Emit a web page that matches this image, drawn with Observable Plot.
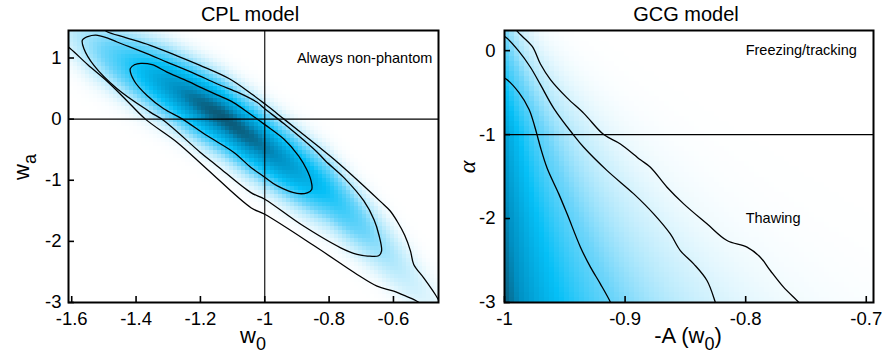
<!DOCTYPE html>
<html>
<head>
<meta charset="utf-8">
<script src="https://cdn.jsdelivr.net/npm/d3@7"></script>
<script src="https://cdn.jsdelivr.net/npm/@observablehq/plot@0.6"></script>
<style>
  body { margin: 0; background: #fff; }
  #wrap { position: relative; width: 883px; height: 356px; overflow: hidden;
          font-family: "Liberation Sans", Arial, Helvetica, sans-serif; color: #000; }
  .panel { position: absolute; top: 0; }
  .title { position: absolute; top: 4px; width: 300px; text-align: center; font-size: 20px; line-height: 20px; }
  .xlab { position: absolute; top: 325px; width: 200px; text-align: center; font-size: 22px; line-height: 22px; }
  .ylab { position: absolute; font-size: 22px; line-height: 22px; white-space: nowrap;
          transform: translate(-50%, -50%) rotate(-90deg); }
  .sub { font-size: 18px; position: relative; top: 7px; }
</style>
</head>
<body>
<div id="wrap">
  <div id="left" class="panel" style="left:0"></div>
  <div id="right" class="panel" style="left:440px"></div>
  <div class="title" style="left:100px">CPL model</div>
  <div class="title" style="left:536px">GCG model</div>
  <div class="xlab" style="left:153px">w<span class="sub">0</span></div>
  <div class="xlab" style="left:588px">-A (w<span class="sub">0</span>)</div>
  <div class="ylab" style="left:22px; top:167px">w<span class="sub">a</span></div>
  <div class="ylab" style="left:467px; top:167px; font-family:'Liberation Serif','DejaVu Serif',serif; font-style:italic; font-size:24px">α</div>
</div>
<script>
// ---------- axes ----------
const cplXDomain = [-1.61, -0.46];
const cplYDomain = [-3, 1.45];
const cplXTicks = [-1.6, -1.4, -1.2, -1, -0.8, -0.6];
const cplXTickLabels = ["-1.6", "-1.4", "-1.2", "-1", "-0.8", "-0.6"];
const cplYTicks = [1, 0, -1, -2, -3];
const cplYTickLabels = ["1", "0", "-1", "-2", "-3"];

const gcgXDomain = [-1, -0.694];
const gcgYDomain = [-3, 0.24];
const gcgXTicks = [-1, -0.9, -0.8, -0.7];
const gcgXTickLabels = ["-1", "-0.9", "-0.8", "-0.7"];
const gcgYTicks = [0, -1, -2, -3];
const gcgYTickLabels = ["0", "-1", "-2", "-3"];

// reference lines
const cplRefX = [-1];
const cplRefY = [0];
const gcgRefY = [-1];

// ---------- CPL contours [w0, wa] ----------
const cplContour1 = [[-1.418,0.825],[-1.405,0.89],[-1.385,0.912],[-1.35,0.89],[-1.304,0.77],[-1.25,0.645],[-1.201,0.525],[-1.15,0.40],[-1.097,0.27],[-1.05,0.10],[-1.0,-0.09],[-0.94,-0.33],[-0.895,-0.6],[-0.87,-0.82],[-0.856,-1.01],[-0.854,-1.15],[-0.868,-1.205],[-0.90,-1.215],[-0.961,-1.093],[-1.0,-0.95],[-1.043,-0.79],[-1.097,-0.541],[-1.18,-0.269],[-1.257,0.005],[-1.314,0.169],[-1.366,0.387],[-1.405,0.62]];
const cplContour2 = [[-1.567,1.29],[-1.55,1.35],[-1.525,1.375],[-1.49,1.33],[-1.459,1.262],[-1.38,1.10],[-1.304,0.934],[-1.22,0.75],[-1.149,0.579],[-1.08,0.43],[-1.025,0.279],[-1.0,0.17],[-0.94,-0.077],[-0.837,-0.541],[-0.811,-0.684],[-0.754,-0.957],[-0.692,-1.339],[-0.66,-1.65],[-0.645,-1.90],[-0.637,-2.159],[-0.646,-2.235],[-0.68,-2.24],[-0.713,-2.213],[-0.764,-2.105],[-0.888,-1.721],[-1.0,-1.311],[-1.043,-1.203],[-1.149,-0.761],[-1.201,-0.541],[-1.314,-0.023],[-1.356,0.115],[-1.459,0.497],[-1.531,0.879],[-1.562,1.152]];
const cplContour3Upper = [[-1.50,1.47],[-1.49,1.43],[-1.43,1.33],[-1.356,1.207],[-1.28,1.05],[-1.201,0.879],[-1.11,0.66],[-1.043,0.42],[-1.0,0.25],[-0.94,0.0],[-0.837,-0.433],[-0.775,-0.70],[-0.692,-1.093],[-0.64,-1.35],[-0.61,-1.503],[-0.589,-1.667],[-0.565,-1.90],[-0.547,-2.159],[-0.537,-2.377],[-0.506,-2.597],[-0.47,-2.869],[-0.45,-3.05]];
const cplContour3Lower = [[-1.63,1.25],[-1.604,1.152],[-1.55,0.89],[-1.49,0.62],[-1.43,0.31],[-1.371,0.0],[-1.273,-0.377],[-1.18,-0.815],[-1.043,-1.449],[-1.0,-1.557],[-0.837,-2.105],[-0.713,-2.541],[-0.651,-2.733],[-0.599,-2.815],[-0.56,-2.9],[-0.527,-2.979],[-0.51,-3.05]];

// ---------- GCG contours [-A, alpha] ----------
const gcgContour1 = [[-1.002,-0.32],[-0.999,-0.335],[-0.988,-0.50],[-0.9796,-0.70],[-0.975,-0.90],[-0.9723,-1.04],[-0.9702,-1.151],[-0.9647,-1.397],[-0.955,-1.706],[-0.9481,-1.944],[-0.937,-2.341],[-0.9287,-2.579],[-0.9205,-2.778],[-0.9122,-2.996],[-0.911,-3.05]];
const gcgContour2 = [[-1.001,0.17],[-0.999,0.16],[-0.9885,0.0],[-0.9785,-0.198],[-0.9702,-0.405],[-0.959,-0.69],[-0.943,-1.0],[-0.9343,-1.151],[-0.9149,-1.429],[-0.8928,-1.706],[-0.8763,-1.944],[-0.8625,-2.183],[-0.8542,-2.381],[-0.8431,-2.540],[-0.8321,-2.738],[-0.8252,-2.996],[-0.824,-3.05]];
const gcgContour3 = [[-0.992,0.30],[-0.9895,0.232],[-0.977,0.05],[-0.9702,-0.159],[-0.9619,-0.345],[-0.9481,-0.563],[-0.934,-0.75],[-0.9177,-1.0],[-0.9039,-1.111],[-0.8873,-1.30],[-0.879,-1.389],[-0.8652,-1.627],[-0.8514,-1.825],[-0.8321,-2.063],[-0.8155,-2.262],[-0.7989,-2.341],[-0.7879,-2.460],[-0.7796,-2.619],[-0.7686,-2.817],[-0.7561,-2.996],[-0.753,-3.05]];

// ---------- shading ----------
const cplRidge = [[-1.65,1.6],[-1.55,1.22],[-1.3,0.55],[-1.13,0.03],[-0.95,-0.66],[-0.8,-1.2],[-0.65,-1.98],[-0.5,-2.85],[-0.40,-3.5]];
const cplPeak = [-1.13, 0.03];
const cplSpread = [0.21, 0.25, 0.32];   // along ridge (upper-left, lower-right), across ridge
const gcgShadeAlpha = [0.24, 0, -1, -2, -3];
const gcgShadePeak  = [0.2, 0.27, 0.7, 0.88, 1.0];
const gcgShadeDecay = [0.012, 0.0155, 0.028, 0.042, 0.058];
const shadeLevels = [0, 0.05, 0.2, 0.45, 0.8, 1];

// ---------- shading functions ----------
const ridgeAt = d3.scaleLinear().domain(cplRidge.map(d => d[0])).range(cplRidge.map(d => d[1])).clamp(true);
function cplShade(x, y) {
  const t = x - cplPeak[0];
  const st = t < 0 ? cplSpread[0] : cplSpread[1];
  const n = y - ridgeAt(x);
  return Math.exp(-0.5 * (t / st) ** 2 - 0.5 * (n / cplSpread[2]) ** 2);
}
const gcgPeakAt = d3.scaleLinear().domain(gcgShadeAlpha).range(gcgShadePeak).clamp(true);
const gcgDecayAt = d3.scaleLinear().domain(gcgShadeAlpha).range(gcgShadeDecay).clamp(true);
function gcgShade(x, a) {
  return gcgPeakAt(a) * Math.exp(-(x - gcgXDomain[0]) / gcgDecayAt(a));
}

const colorScale = {
  type: "linear",
  domain: shadeLevels,
  range: ["#ffffff", "#d3f2fd", "#6ed5fa", "#05c0f7", "#008fc2", "#0b5a78"],
  interpolate: "rgb",
  clamp: true
};
const fontStyle = {
  fontFamily: "'Liberation Sans', Arial, Helvetica, sans-serif",
  background: "transparent",
  overflow: "visible",
  color: "#000"
};
const xy = {x: d => d[0], y: d => d[1]};
const lineStyle = {stroke: "#000", strokeWidth: 1.3, clip: true};

// ---------- CPL panel ----------
const cplW = 450, cplH = 356;
const cplM = {left: 68, right: 12, top: 30, bottom: 54};
const cplFrameW = cplW - cplM.left - cplM.right, cplFrameH = cplH - cplM.top - cplM.bottom;
const cpl = Plot.plot({
  width: cplW, height: cplH,
  marginLeft: cplM.left, marginRight: cplM.right, marginTop: cplM.top, marginBottom: cplM.bottom,
  style: fontStyle,
  x: {domain: cplXDomain},
  y: {domain: cplYDomain},
  color: colorScale,
  marks: [
    Plot.raster({
      x1: cplXDomain[0], x2: cplXDomain[1], y1: cplYDomain[0], y2: cplYDomain[1],
      width: 92, height: 68, imageRendering: "pixelated",
      fill: (x, y) => cplShade(x, y)
    }),
    Plot.ruleX(cplRefX, {stroke: "#000", strokeWidth: 1.1}),
    Plot.ruleY(cplRefY, {stroke: "#000", strokeWidth: 1.1}),
    Plot.line(cplContour1, {...xy, ...lineStyle, curve: "catmull-rom-closed"}),
    Plot.line(cplContour2, {...xy, ...lineStyle, curve: "catmull-rom-closed"}),
    Plot.line(cplContour3Upper, {...xy, ...lineStyle, curve: "catmull-rom"}),
    Plot.line(cplContour3Lower, {...xy, ...lineStyle, curve: "catmull-rom"}),
    Plot.text(["Always non-phantom"], {x: -0.9, y: 1.0, text: d => d, textAnchor: "start", fontSize: 14.5, fill: "#000"}),
    Plot.ruleX(cplXTicks, {x: d => d, insetTop: cplFrameH - 6, stroke: "#000", strokeWidth: 1.6}),
    Plot.ruleY(cplYTicks, {y: d => d, insetRight: cplFrameW - 6, stroke: "#000", strokeWidth: 1.6}),
    Plot.frame({stroke: "#000", strokeWidth: 2}),
    Plot.axisX(cplXTicks, {tickSize: 0, tickPadding: 9, fontSize: 18.5, label: null,
      tickFormat: d => cplXTickLabels[cplXTicks.indexOf(d)]}),
    Plot.axisY(cplYTicks, {tickSize: 0, tickPadding: 7, fontSize: 18.5, label: null,
      tickFormat: d => cplYTickLabels[cplYTicks.indexOf(d)]})
  ]
});
document.getElementById("left").appendChild(cpl);

// ---------- GCG panel ----------
const gcgW = 443, gcgH = 356;
const gcgM = {left: 64, right: 10, top: 30, bottom: 54};
const gcgFrameW = gcgW - gcgM.left - gcgM.right, gcgFrameH = gcgH - gcgM.top - gcgM.bottom;
const gcg = Plot.plot({
  width: gcgW, height: gcgH,
  marginLeft: gcgM.left, marginRight: gcgM.right, marginTop: gcgM.top, marginBottom: gcgM.bottom,
  style: fontStyle,
  x: {domain: gcgXDomain},
  y: {domain: gcgYDomain},
  color: colorScale,
  marks: [
    Plot.raster({
      x1: gcgXDomain[0], x2: gcgXDomain[1], y1: gcgYDomain[0], y2: gcgYDomain[1],
      width: 74, height: 54, imageRendering: "pixelated",
      fill: (x, y) => gcgShade(x, y)
    }),
    Plot.ruleY(gcgRefY, {stroke: "#000", strokeWidth: 1.1}),
    Plot.line(gcgContour1, {...xy, ...lineStyle, curve: "catmull-rom"}),
    Plot.line(gcgContour2, {...xy, ...lineStyle, curve: "catmull-rom"}),
    Plot.line(gcgContour3, {...xy, ...lineStyle, curve: "catmull-rom"}),
    Plot.text(["Freezing/tracking"], {x: -0.8, y: 0, text: d => d, textAnchor: "start", fontSize: 14.5, fill: "#000"}),
    Plot.text(["Thawing"], {x: -0.8, y: -2, text: d => d, textAnchor: "start", fontSize: 14.5, fill: "#000"}),
    Plot.ruleX(gcgXTicks, {x: d => d, insetTop: gcgFrameH - 6, stroke: "#000", strokeWidth: 1.6}),
    Plot.ruleY(gcgYTicks, {y: d => d, insetRight: gcgFrameW - 6, stroke: "#000", strokeWidth: 1.6}),
    Plot.frame({stroke: "#000", strokeWidth: 2}),
    Plot.axisX(gcgXTicks, {tickSize: 0, tickPadding: 9, fontSize: 18.5, label: null,
      tickFormat: d => gcgXTickLabels[gcgXTicks.indexOf(d)]}),
    Plot.axisY(gcgYTicks, {tickSize: 0, tickPadding: 9, fontSize: 18.5, label: null,
      tickFormat: d => gcgYTickLabels[gcgYTicks.indexOf(d)]})
  ]
});
document.getElementById("right").appendChild(gcg);
</script>
</body>
</html>
